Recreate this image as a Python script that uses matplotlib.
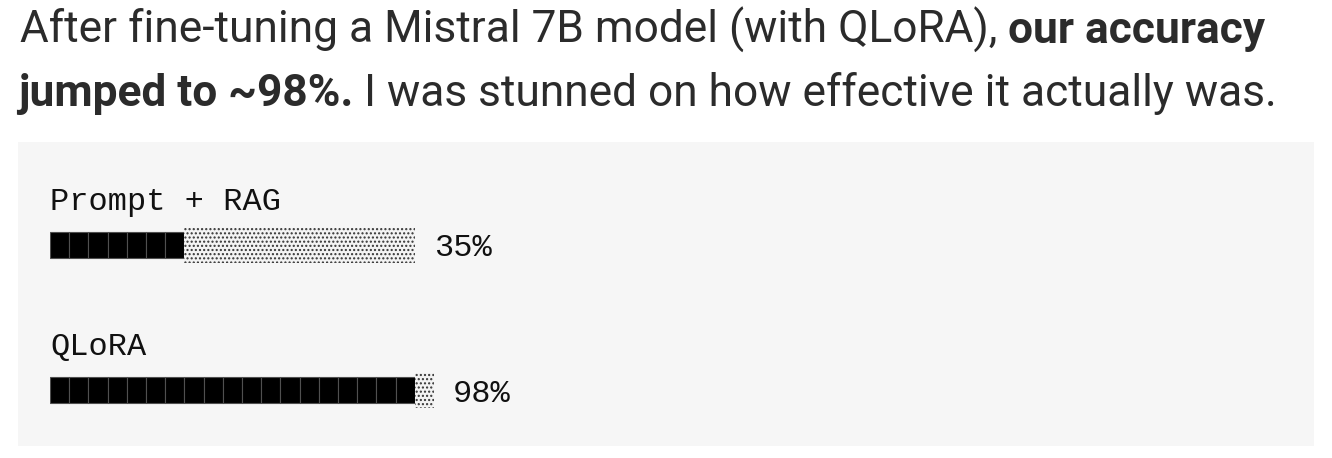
import matplotlib
matplotlib.use("Agg")
import matplotlib.pyplot as plt
from matplotlib.patches import Rectangle

# ---- data ----
categories = ["Prompt + RAG", "QLoRA"]
values = [35, 98]                 # accuracy, %
filled_blocks = [7, 19]           # solid "█" blocks
shade_blocks = [12, 1]            # light "░" blocks
value_labels = ["35%", "98%"]

title_line1 = [("After fine-tuning a Mistral 7B model (with QLoRA),", "normal"),
               (" our accuracy", "bold")]
title_line2 = [("jumped to ~98%.", "bold"),
               (" I was stunned on how effective it actually was.", "normal")]

W, H = 1332, 458
fig = plt.figure(figsize=(W / 100, H / 100), dpi=100)
fig.patch.set_facecolor("white")

bg = fig.add_axes([0, 0, 1, 1])
bg.set_xlim(0, W)
bg.set_ylim(H, 0)
bg.axis("off")
bg.add_patch(Rectangle((18, 142), 1296, 304, facecolor="#f6f6f6", edgecolor="none"))

# ---- title with mixed weights ----
TITLE_FONT = "Roboto"
TXT_COLOR = "#2b2b2b"
renderer = fig.canvas.get_renderer()

def seg_width(s, weight, size):
    t = bg.text(0, 0, s, fontsize=size, fontweight=weight, family=TITLE_FONT)
    w = t.get_window_extent(renderer).width
    t.remove()
    return w

ref_size = 30
w1 = sum(seg_width(s, wt, ref_size) for s, wt in title_line1)
size = ref_size * (1243 / w1)

def draw_line(parts, x0, y):
    x = x0
    for s, wt in parts:
        t = bg.text(x, y, s, fontsize=size, fontweight=wt, family=TITLE_FONT,
                    color=TXT_COLOR, va="baseline", ha="left")
        x += t.get_window_extent(renderer).width

draw_line(title_line1, 20, 43)
draw_line(title_line2, 18, 106)

# ---- bar axes: x in block units (20 blocks = 100%) ----
left_px, right_px = 50, 434
top_px, bot_px = 100, 458
ax = fig.add_axes([left_px / W, 1 - bot_px / H, (right_px - left_px) / W, (bot_px - top_px) / H])
ax.set_xlim(0, 20)
# category i centred at pixel 245 + 145*i
ax.set_ylim((bot_px - 245) / 145, (top_px - 245) / 145)
ax.axis("off")
ax.patch.set_alpha(0)

plt.rcParams["hatch.linewidth"] = 1.0
MONO = "Liberation Mono"
for i, (cat, nf, ns, lab) in enumerate(zip(categories, filled_blocks, shade_blocks, value_labels)):
    for j in range(nf):
        ax.barh(i, 1, left=j, height=26 / 145, color="black",
                edgecolor="#505050", linewidth=0.8)
    ax.barh(i, ns, left=nf, height=35 / 145, facecolor="#f3f3f3",
            edgecolor="#333333", hatch="....", linewidth=0)
    ax.text(nf + ns + 1, i, lab, fontsize=23, family=MONO, color="#111111",
            va="center_baseline", ha="left")
    ax.annotate(cat, (0, i), xytext=(0, 35), textcoords="offset pixels",
                fontsize=23, family=MONO, color="#111111",
                va="baseline", ha="left")

fig.savefig("out.png", dpi=100, facecolor="white")
